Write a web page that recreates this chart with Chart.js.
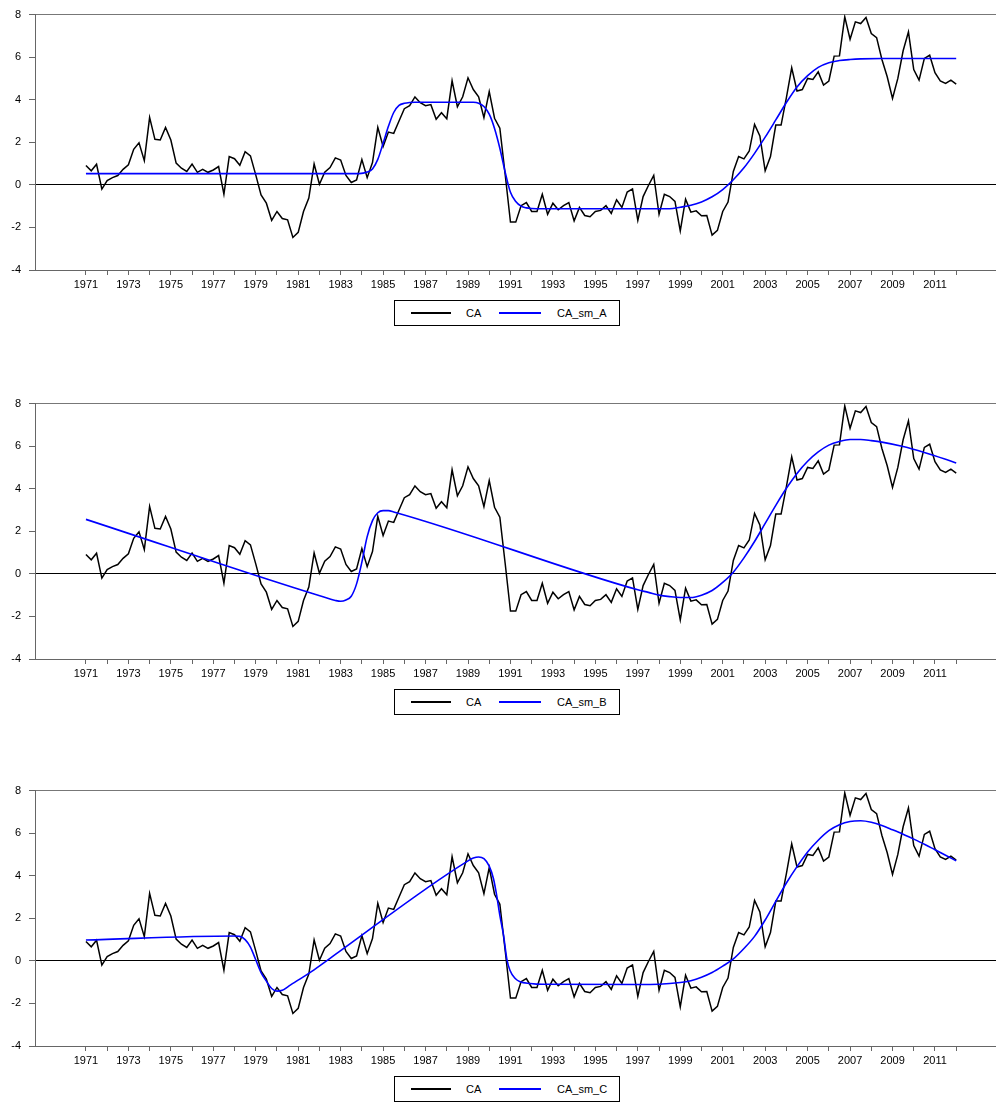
<!DOCTYPE html>
<html>
<head>
<meta charset="utf-8">
<title>CA smoothed</title>
<script src="https://cdn.jsdelivr.net/npm/chart.js@4.4.1/dist/chart.umd.min.js"></script>
<style>
  body { margin: 0; background: #fff; font-family: "Liberation Sans", Arial, sans-serif; }
  .panel { position: absolute; left: 0; }
  .legend {
    position: absolute; left: 394px; width: 226px; height: 26px;
    box-sizing: border-box; border: 1px solid #000; font-size: 11px; color: #000;
  }
  .legend .ln { position: absolute; top: 11px; height: 2px; }
  .legend .tx { position: absolute; top: 0; line-height: 24px; }
</style>
</head>
<body>

<canvas id="c1" class="panel" width="996" height="300" style="top:0px"></canvas>
<div class="legend" style="top:300px">
  <span class="ln" style="left:16px;width:40px;background:#000"></span><span class="tx" style="left:71px">CA</span>
  <span class="ln" style="left:104px;width:42px;background:#0000ff"></span><span class="tx" style="left:162px">CA_sm_A</span>
</div>

<canvas id="c2" class="panel" width="996" height="300" style="top:389px"></canvas>
<div class="legend" style="top:689px">
  <span class="ln" style="left:16px;width:40px;background:#000"></span><span class="tx" style="left:71px">CA</span>
  <span class="ln" style="left:104px;width:42px;background:#0000ff"></span><span class="tx" style="left:162px">CA_sm_B</span>
</div>

<canvas id="c3" class="panel" width="996" height="300" style="top:776px"></canvas>
<div class="legend" style="top:1076px">
  <span class="ln" style="left:16px;width:40px;background:#000"></span><span class="tx" style="left:71px">CA</span>
  <span class="ln" style="left:104px;width:42px;background:#0000ff"></span><span class="tx" style="left:162px">CA_sm_C</span>
</div>

<script>
// quarterly observations, index 0 = 1971Q1, one value per quarter up to index 164
const caValues = [
  0.91, 0.66, 0.97, -0.20, 0.20, 0.34, 0.44, 0.73, 0.94, 1.67,
  1.98, 1.14, 3.17, 2.14, 2.11, 2.70, 2.11, 1.02, 0.78, 0.63,
  0.98, 0.59, 0.73, 0.59, 0.70, 0.86, -0.44, 1.33, 1.23, 0.92,
  1.56, 1.36, 0.47, -0.47, -0.86, -1.67, -1.25, -1.58, -1.64, -2.47,
  -2.23, -1.25, -0.62, 0.98, 0.03, 0.59, 0.81, 1.27, 1.17, 0.44,
  0.11, 0.23, 1.19, 0.34, 1.05, 2.70, 1.80, 2.48, 2.42, 3.00,
  3.58, 3.72, 4.13, 3.86, 3.72, 3.77, 3.08, 3.39, 3.11, 4.89,
  3.67, 4.14, 5.03, 4.48, 4.14, 3.16, 4.38, 3.13, 2.66, 0.50,
  -1.75, -1.75, -0.98, -0.83, -1.25, -1.25, -0.44, -1.38, -0.86, -1.17,
  -0.98, -0.83, -1.69, -1.06, -1.44, -1.50, -1.25, -1.20, -0.98, -1.34,
  -0.70, -1.06, -0.34, -0.19, -1.67, -0.55, -0.03, 0.44, -1.38, -0.44,
  -0.55, -0.78, -2.16, -0.67, -1.28, -1.22, -1.45, -1.44, -2.36, -2.14,
  -1.25, -0.81, 0.63, 1.33, 1.22, 1.59, 2.84, 2.30, 0.66, 1.33,
  2.81, 2.81, 4.10, 5.50, 4.41, 4.48, 5.00, 4.95, 5.31, 4.69,
  4.88, 6.05, 6.06, 7.89, 6.84, 7.66, 7.58, 7.86, 7.11, 6.92,
  5.89, 5.08, 4.06, 5.00, 6.30, 7.19, 5.42, 4.92, 5.94, 6.09,
  5.27, 4.88, 4.77, 4.92, 4.73
];

// smoothed curves at these quarter indexes
const smA_q = [0, 51.5, 53, 54, 55, 56, 57, 58, 59, 60, 61, 62, 73, 74, 75, 76, 77, 78, 79, 80, 81, 82, 83, 84, 86,
  110, 112, 114, 116, 118, 120, 122, 124, 126, 128, 130, 132, 134, 136, 138, 140, 142, 144, 146, 150, 164];
const smA_v = [0.53, 0.53, 0.60, 0.75, 1.20, 1.95, 2.75, 3.40, 3.73, 3.83, 3.87, 3.88, 3.88, 3.84, 3.68, 3.32, 2.65, 1.72, 0.60, -0.35, -0.78, -1.00, -1.08, -1.11, -1.125,
  -1.12, -1.05, -0.96, -0.80, -0.56, -0.22, 0.24, 0.80, 1.48, 2.24, 3.05, 3.87, 4.60, 5.13, 5.52, 5.74, 5.84, 5.89, 5.92, 5.94, 5.94];

const smB_q = [0, 46, 47, 48, 49, 50, 51, 52, 53, 54, 55, 56, 57, 58,
  104, 106, 108, 110, 112, 114, 116, 118, 120, 122, 124, 126, 128, 130, 132, 134, 136, 138, 140, 142, 144, 146, 148, 150, 154, 158, 162, 164];
const smB_v = [2.56, -1.18, -1.25, -1.29, -1.23, -1.05, -0.47, 0.55, 1.75, 2.50, 2.87, 2.97, 2.97, 2.91,
  -0.75, -0.87, -1.00, -1.07, -1.11, -1.11, -1.00, -0.78, -0.40, 0.08, 0.75, 1.52, 2.37, 3.22, 4.02, 4.72, 5.29, 5.73, 6.05, 6.22, 6.31, 6.31, 6.26, 6.19, 5.98, 5.70, 5.38, 5.21];

const smC_q = [0, 28, 29, 30, 31, 32, 33, 34, 35, 36, 37, 38.5, 40.3, 42.2, 44.1, 46,
  72, 73, 74, 75, 76, 76.8, 77.4, 78, 78.7, 79.3, 79.9, 80.9, 81.8, 83.7, 86,
  104, 108, 112, 114, 116, 118, 120, 122, 124, 126, 128, 130, 132, 134, 136, 138, 140, 142, 144, 146, 148, 150, 152, 154, 156, 158, 160, 162, 164];
const smC_v = [0.98, 1.17, 1.15, 1.00, 0.65, 0.05, -0.55, -0.95, -1.30, -1.42, -1.38, -1.14, -0.86, -0.55, -0.22, 0.12,
  4.70, 4.83, 4.88, 4.80, 4.45, 3.86, 3.08, 2.14, 1.20, 0.11, -0.44, -0.83, -0.98, -1.06, -1.10,
  -1.11, -1.10, -1.02, -0.93, -0.77, -0.55, -0.25, 0.09, 0.58, 1.15, 1.92, 2.80, 3.66, 4.43, 5.12, 5.67, 6.12, 6.40, 6.55, 6.58, 6.51, 6.36, 6.16, 5.95, 5.72, 5.48, 5.22, 4.96, 4.70];

// year labels shown under every second year tick
const yearLabels = ['1971', '1973', '1975', '1977', '1979', '1981', '1983', '1985', '1987', '1989', '1991',
  '1993', '1995', '1997', '1999', '2001', '2003', '2005', '2007', '2009', '2011'];

const xMin = -9.6;
const xMax = 171.5;

function makeChart(id, smQ, smV, smLabel) {
  const caPts = caValues.map((v, i) => ({ x: i, y: v }));
  const smPts = smQ.map((q, k) => ({ x: q, y: smV[k] }));
  return new Chart(document.getElementById(id), {
    type: 'line',
    data: {
      datasets: [
        { label: 'CA', data: caPts, borderColor: '#000', borderWidth: 1.5, pointRadius: 0, order: 2 },
        { label: smLabel, data: smPts, borderColor: '#0000ff', borderWidth: 1.6, pointRadius: 0,
          cubicInterpolationMode: 'monotone', order: 1 }
      ]
    },
    options: {
      responsive: false,
      animation: false,
      layout: { padding: { top: 14, left: 0, right: 0, bottom: 0 } },
      plugins: { legend: { display: false }, tooltip: { enabled: false } },
      scales: {
        x: {
          type: 'linear', min: xMin, max: xMax,
          afterBuildTicks: function (s) {
            const t = [];
            for (let q = 0; q <= 164; q += 4) t.push({ value: q });
            s.ticks = t;
          },
          afterFit: function (s) { s.height = 30; },
          grid: { drawOnChartArea: false, drawTicks: true, tickLength: 5, tickColor: '#666' },
          border: { color: '#666', width: 1 },
          ticks: {
            autoSkip: false, maxRotation: 0, padding: 3, color: '#000',
            font: { family: '"Liberation Sans", Arial, sans-serif', size: 11 },
            callback: function (v) { return v % 8 === 0 ? yearLabels[v / 8] : ''; }
          }
        },
        y: {
          min: -4, max: 8,
          afterFit: function (s) { s.width = 35; },
          grid: {
            color: function (ctx) {
              if (ctx.tick.value === 0) return '#000';
              if (ctx.tick.value === 8) return '#777';
              return 'rgba(0,0,0,0)';
            },
            lineWidth: 1, drawTicks: true, tickLength: 6, tickColor: '#666'
          },
          border: { color: '#666', width: 1 },
          ticks: {
            stepSize: 2, padding: 8, color: '#000',
            font: { family: '"Liberation Sans", Arial, sans-serif', size: 11 }
          }
        }
      }
    }
  });
}

makeChart('c1', smA_q, smA_v, 'CA_sm_A');
makeChart('c2', smB_q, smB_v, 'CA_sm_B');
makeChart('c3', smC_q, smC_v, 'CA_sm_C');
</script>
</body>
</html>
